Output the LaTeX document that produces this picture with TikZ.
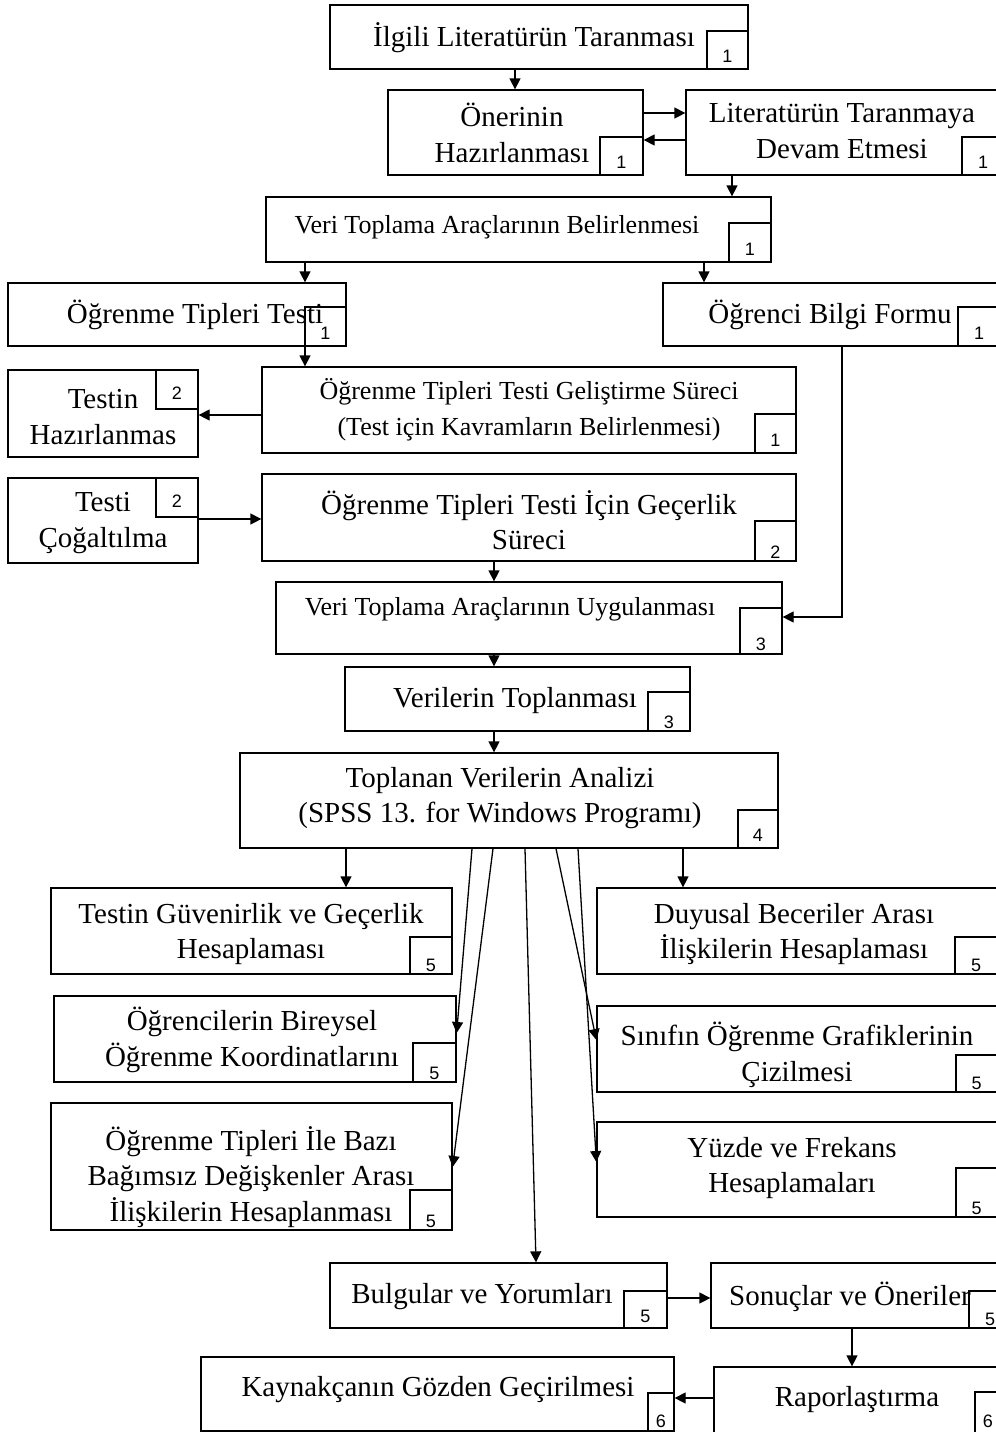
\documentclass[tikz,border=0pt]{standalone}
\usepackage{fontspec}
\setmainfont{Liberation Serif}
\newfontfamily\digitfont{Liberation Sans}
\usetikzlibrary{arrows.meta}

\tikzset{
  box/.style={draw, line width=0.65pt, fill=white, inner sep=0pt},
  nbox/.style={draw, line width=0.65pt, fill=white, inner sep=0pt},
  txt/.style={align=center, inner sep=0pt, font=\fontsize{14.5}{17.8}\selectfont},
  txts/.style={align=center, inner sep=0pt, font=\fontsize{13}{17.8}\selectfont},
  digit/.style={inner sep=0pt, font=\digitfont\fontsize{9}{9}\selectfont},
  arr/.style={line width=0.65pt, -{Triangle[length=5.5pt,width=5.5pt]}},
}

% process box: name, x1, y1, x2, y2 (pixel grid, y downwards)
\newcommand{\flowbox}[5]{%
  \node[box, minimum width={(#4-#2)*0.5pt}, minimum height={(#5-#3)*0.5pt}]
    (#1) at ({(#2+#4)/2},{(#3+#5)/2}) {};}

% stage number box: name, x1, y1, x2, y2, digit, baseline height above bottom
\newcommand{\numbox}[7]{%
  \node[nbox, minimum width={(#4-#2)*0.5pt}, minimum height={(#5-#3)*0.5pt}]
    (#1) at ({(#2+#4)/2},{(#3+#5)/2}) {};
  \begin{scope}
    \clip (#2,#3) rectangle (#4,#5);
    \node[digit, anchor=base] (#1-d) at ({(#2+#4)/2},{#5-#7}) {#6};
  \end{scope}
  \draw[line width=1.1pt] (#2,#5) -- (#4,#5);}

\begin{document}
\begin{tikzpicture}[x=0.5pt,y=-0.5pt]
\useasboundingbox (0,0) rectangle (996,1432);
\begin{scope}
\clip (0,0) rectangle (996,1432);

% ---- boxes ----
\flowbox{b1}{330}{5}{748}{69}
\numbox{b1-n}{707}{31}{748}{69}{1}{7}
\node[txt] (b1-t) at (534,38) {İlgili Literatürün Taranması};

\flowbox{b2}{388}{90}{643}{175}
\numbox{b2-n}{600}{137}{643}{175}{1}{7}
\node[txt] (b2-t) at (512,133) {Önerinin\\Hazırlanması};

\flowbox{b3}{686}{90}{1004}{175}
\numbox{b3-n}{962}{137}{1004}{175}{1}{7}
\node[txt] (b3-t) at (842,131) {Literatürün Taranmaya\\Devam Etmesi};

\flowbox{b4}{266}{197}{771}{262}
\numbox{b4-n}{729}{223}{771}{262}{1}{7}
\node[txts] (b4-t) at (497,227) {Veri Toplama Araçlarının Belirlenmesi};

\flowbox{b5}{8}{283}{346}{346}
\numbox{b5-n}{305}{307}{346}{346}{1}{7}
\node[txt] (b5-t) at (195,315) {Öğrenme Tipleri Testi};

\flowbox{b6}{663}{283}{1004}{346}
\numbox{b6-n}{958}{307}{1000}{346}{1}{7}
\node[txt] (b6-t) at (830,315) {Öğrenci Bilgi Formu};

\flowbox{b7}{262}{367}{796}{453}
\numbox{b7-n}{755}{414}{796}{453}{1}{7}
\node[txts] (b7-t) at (529,410) {Öğrenme Tipleri Testi Geliştirme Süreci\\(Test için Kavramların Belirlenmesi)};

\flowbox{b8}{8}{370}{198}{457}
\numbox{b8-n}{156}{370}{198}{409}{2}{10}
\node[txt] (b8-t) at (103,417) {Testin\\Hazırlanmas};

\flowbox{b9}{8}{478}{198}{563}
\numbox{b9-n}{156}{478}{198}{517}{2}{10}
\node[txt] (b9-t) at (103,523) {Testi\\Çoğaltılma};

\flowbox{b10}{262}{474}{796}{561}
\numbox{b10-n}{755}{521}{796}{561}{2}{3}
\node[txt] (b10-t) at (529,520) {Öğrenme Tipleri Testi İçin Geçerlik\\Süreci};

\flowbox{b11}{276}{582}{782}{654}
\numbox{b11-n}{740}{608}{782}{654}{3}{4}
\node[txts] (b11-t) at (510,609) {Veri Toplama Araçlarının Uygulanması};

\flowbox{b12}{345}{667}{690}{731}
\numbox{b12-n}{648}{692}{690}{731}{3}{3}
\node[txt] (b12-t) at (515,701) {Verilerin Toplanması};

\flowbox{b13}{240}{753}{778}{848}
\numbox{b13-n}{738}{810}{778}{848}{4}{7}
\node[txt] (b13-t) at (500,798) {Toplanan Verilerin Analizi\\(SPSS 13. for Windows Programı)};

\flowbox{b14}{51}{888}{452}{974}
\numbox{b14-n}{410}{937}{452}{974}{5}{3}
\node[txt] (b14-t) at (251,934) {Testin Güvenirlik ve Geçerlik\\Hesaplaması};

\flowbox{b15}{597}{888}{997}{974}
\numbox{b15-n}{955}{937}{997}{974}{5}{3}
\node[txt] (b15-t) at (794,934) {Duyusal Beceriler Arası\\İlişkilerin Hesaplaması};

\flowbox{b16}{54}{996}{456}{1082}
\numbox{b16-n}{413}{1043}{456}{1082}{5}{3}
\node[txt] (b16-t) at (252,1040) {Öğrencilerin Bireysel\\Öğrenme Koordinatlarını};

\flowbox{b17}{597}{1006}{997}{1092}
\numbox{b17-n}{956}{1055}{997}{1092}{5}{3}
\node[txt] (b17-t) at (797,1055) {Sınıfın Öğrenme Grafiklerinin\\Çizilmesi};

\flowbox{b18}{51}{1103}{452}{1230}
\numbox{b18-n}{410}{1190}{452}{1230}{5}{3}
\node[txt] (b18-t) at (251,1177) {Öğrenme Tipleri İle Bazı\\Bağımsız Değişkenler Arası\\İlişkilerin Hesaplanması};

\flowbox{b19}{597}{1122}{997}{1217}
\numbox{b19-n}{956}{1168}{997}{1217}{5}{3}
\node[txt] (b19-t) at (792,1168) {Yüzde ve Frekans\\Hesaplamaları};

\flowbox{b20}{330}{1263}{667}{1328}
\numbox{b20-n}{624}{1291}{667}{1328}{5}{6}
\node[txt] (b20-t) at (482,1297) {Bulgular ve Yorumları};

\flowbox{b21}{711}{1263}{1011}{1328}
\numbox{b21-n}{969}{1291}{1011}{1328}{5}{3}
\node[txt] (b21-t) at (850,1297) {Sonuçlar ve Öneriler};

\flowbox{b22}{714}{1367}{1006}{1445}
\numbox{b22-n}{975}{1392}{1001}{1445}{6}{18}
\node[txt] (b22-t) at (857,1400) {Raporlaştırma};

\flowbox{b23}{201}{1357}{674}{1431}
\numbox{b23-n}{648}{1393}{674}{1431}{6}{4}
\node[txt] (b23-t) at (438,1390) {Kaynakçanın Gözden Geçirilmesi};

% ---- connectors ----
\draw[arr] (b1.south -| 515,0) -- (b2.north -| 515,0);
\draw[arr] (b2.east |- 0,113) -- (b3.west |- 0,113);
\draw[arr] (b3.west |- 0,140) -- (b2.east |- 0,140);
\draw[arr] (b3.south -| 732,0) -- (b4.north -| 732,0);
\draw[arr] (b4.south -| 305,0) -- (b5.north -| 305,0);
\draw[arr] (b4.south -| 704,0) -- (b6.north -| 704,0);
\draw[arr] (b5.south -| 305,0) -- (b7.north -| 305,0);
\draw[arr] (b7.west |- 0,415) -- (b8.east |- 0,415);
\draw[arr] (b9.east |- 0,519) -- (b10.west |- 0,519);
\draw[arr] (b10.south -| 494,0) -- (b11.north -| 494,0);
\draw[arr] (b6.south -| 842,0) |- (b11.east |- 0,617);
\draw[arr] (b11.south -| 494,0) -- (b12.north -| 494,0);
\draw[arr] (b12.south -| 494,0) -- (b13.north -| 494,0);
\draw[arr] (b13.south -| 346,0) -- (b14.north -| 346,0);
\draw[arr] (b13.south -| 683,0) -- (b15.north -| 683,0);
\draw[arr] (b13.south -| 472,0) -- (b16.east |- 0,1033);
\draw[arr] (b13.south -| 493,0) -- (b18.east |- 0,1167);
\draw[arr] (b13.south -| 525,0) -- (b20.north -| 536,0);
\draw[arr] (b13.south -| 556,0) -- (b17.west |- 0,1040);
\draw[arr] (b13.south -| 578,0) -- (b19.west |- 0,1162);
\draw[arr] (b20.east |- 0,1298) -- (b21.west |- 0,1298);
\draw[arr] (b21.south -| 852,0) -- (b22.north -| 852,0);
\draw[arr] (b22.west |- 0,1398) -- (b23.east |- 0,1398);
\end{scope}
\end{tikzpicture}
\end{document}
